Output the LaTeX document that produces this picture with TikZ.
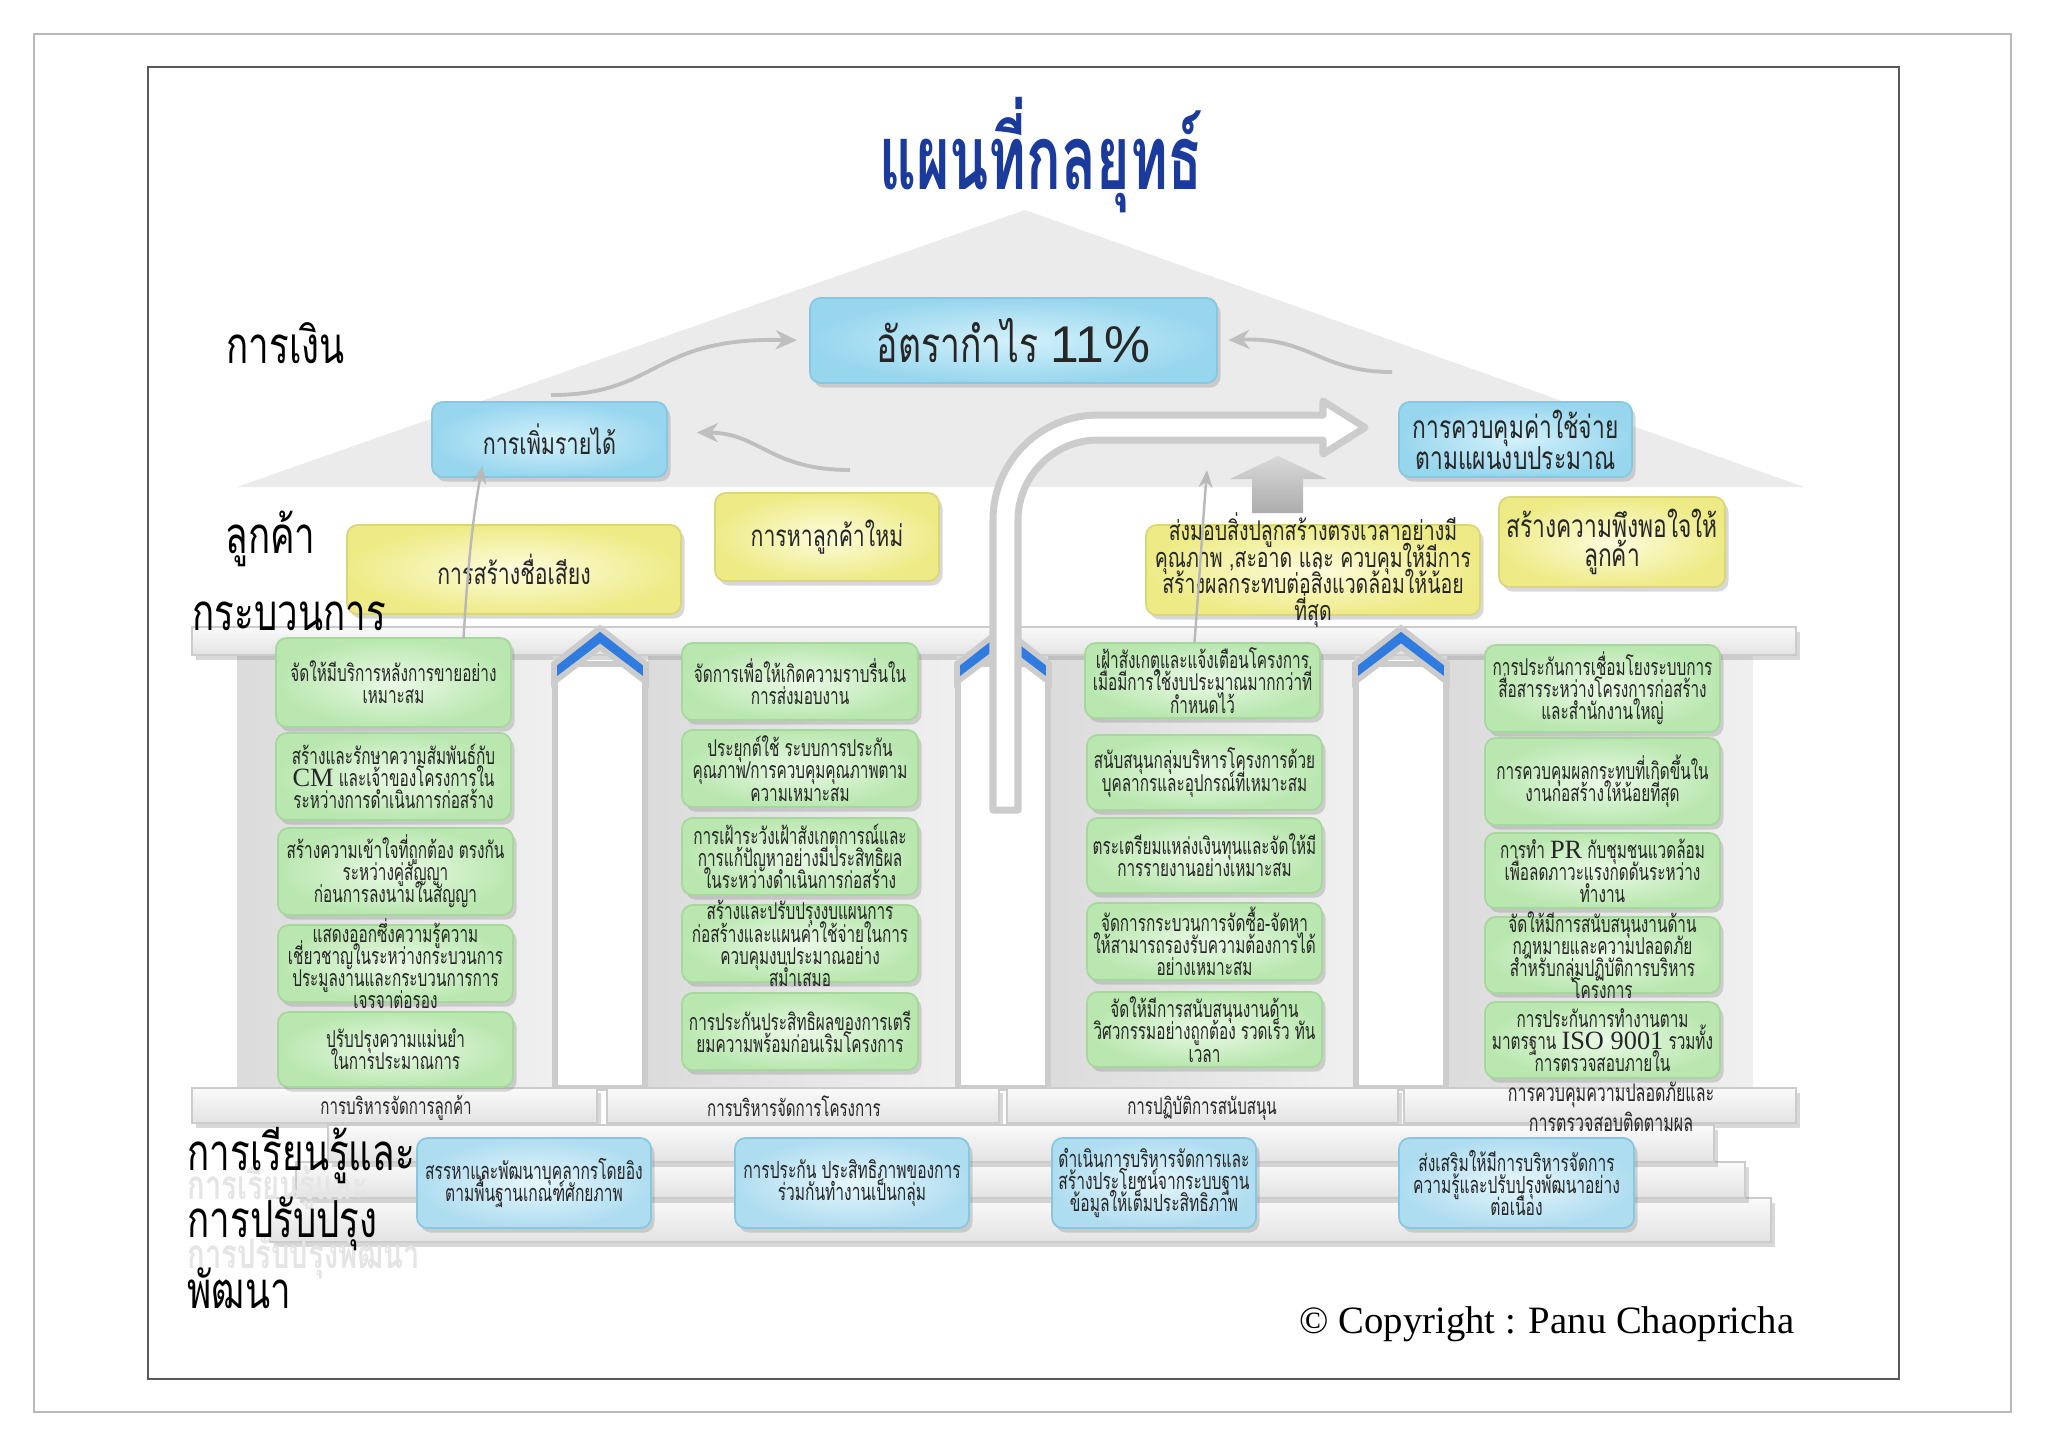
\documentclass[tikz,border=0pt]{standalone}
\usepackage{fontspec}
\usetikzlibrary{shadows,calc,arrows.meta}
\newfontfamily\thai[Script=Thai,FakeStretch=0.72]{Loma}
\newfontfamily\thaiN[Script=Thai,FakeStretch=0.66]{Loma}
\newfontfamily\thaiT[Script=Thai,FakeStretch=0.64]{Loma}
\newfontfamily\tms{Liberation Serif}
\newfontfamily\arl{Liberation Sans}
\definecolor{gIn}{HTML}{EAF9E6}
\definecolor{gOut}{HTML}{B9E7AF}
\definecolor{gEdge}{HTML}{A6D89D}
\definecolor{bIn}{HTML}{D3F1FB}
\definecolor{bOut}{HTML}{98D6EE}
\definecolor{bEdge}{HTML}{86C8E2}
\definecolor{lIn}{HTML}{E6F6FC}
\definecolor{lOut}{HTML}{AFDDF0}
\definecolor{yIn}{HTML}{FDFCDC}
\definecolor{yOut}{HTML}{EEEB87}
\definecolor{yEdge}{HTML}{DAD77A}
\definecolor{roof}{HTML}{EBEBEB}
\definecolor{chev}{HTML}{2F7BE0}
\definecolor{ttl}{HTML}{1B3B9C}
\newcommand\bx[8]{%
  \node[#1, minimum width={(#5-#3)*0.01cm}, minimum height={(#6-#4)*0.01cm}, inner sep=0pt] (#2) at ({(#3+#5)/2},{(#4+#6)/2}) {};
  \node[#7] (#2t) at (#2.center) {#8};}
\newcommand\chev[2]{\filldraw[fill=chev, draw=gray!40, line width=1.6pt, line join=miter] (#1-46,664) -- (#1,628) -- (#1+46,664) -- (#1+46,682) -- (#1,647) -- (#1-46,682) -- cycle;}
\tikzset{
  shd/.style={drop shadow={shadow xshift=1pt, shadow yshift=-1.3pt, opacity=0.3}},
  gbox/.style={rounded corners=3pt, draw=gEdge, line width=0.5pt, inner color=gIn, outer color=gOut, shd},
  bbox/.style={rounded corners=3pt, draw=bEdge, line width=0.5pt, inner color=bIn, outer color=bOut, shd},
  lbox/.style={rounded corners=3pt, draw=bEdge, line width=0.5pt, inner color=lIn, outer color=lOut, shd},
  ybox/.style={rounded corners=3pt, draw=yEdge, line width=0.5pt, inner color=yIn, outer color=yOut, shd},
  txt/.style={align=center, inner sep=0pt, text=black!85},
  gtxt/.style={txt, font=\thaiN\fontsize{6.6}{6.3}\selectfont},
  ltxt/.style={txt, font=\thaiN\fontsize{6.7}{6.3}\selectfont},
  ptxt/.style={txt, font=\thaiN\fontsize{6.5}{8.5}\selectfont},
  lbl/.style={anchor=base west, inner sep=0pt, font=\thai\fontsize{14.5}{15}\selectfont},
  ghost/.style={anchor=base west, inner sep=0pt, text=gray!20, font=\thai\bfseries\fontsize{11.5}{12}\selectfont},
  slab/.style={top color=gray!4, bottom color=gray!22, draw=gray!40, line width=0.6pt, shd},
  garrow/.style={draw=gray!50, line width=1.1pt, -{Stealth[length=6pt,width=5.5pt]}},
  tarrow/.style={draw=gray!55, line width=0.7pt, -{Stealth[length=5pt,width=4pt]}},
}
\begin{document}
\lineskiplimit=-100pt
\lineskip=0pt
\begin{tikzpicture}[x=0.01cm,y=-0.01cm]
\useasboundingbox (0,0) rectangle (2048,1447);
\fill[white] (0,0) rectangle (2048,1447);
\draw[gray!55, line width=0.6pt] (34,34) rectangle (2011,1412);
\draw[black!65, line width=0.6pt] (148,67) rectangle (1899,1379);
% roof
\fill[roof] (1025,210) -- (1804,487) -- (237,487) -- cycle;
% column backgrounds
\foreach \a/\b in {237/553, 648/957, 1048/1355, 1447/1753}
  \shade[left color=gray!28, right color=gray!12] (\a,653) rectangle (\b,1088);
% pillars
\foreach \c in {600,1003,1401}
  \filldraw[fill=white, draw=gray!40, line width=1.6pt] (\c-45,664) rectangle (\c+45,1088);
% lintel
\shade[slab] (192,627) rectangle (1796,655);
% plinths
\foreach \a/\b in {192/597, 607/999, 1007/1398, 1404/1796}
  \shade[slab] (\a,1088) rectangle (\b,1123);
% steps
\shade[slab] (270,1198) rectangle (1771,1242);
\shade[slab] (296,1162) rectangle (1745,1198);
\shade[slab] (328,1125) rectangle (1714,1162);
% chevrons
\chev{600}{}
\chev{1003}{}
\chev{1401}{}
% big white arrow
\filldraw[fill=white, draw=gray!40, line width=2pt, line join=round] (993,810) -- (993,520) .. controls (993,462) and (1040,415) .. (1098,415) -- (1323,415) -- (1323,401) -- (1365,427.5) -- (1323,454) -- (1323,440) -- (1098,440) .. controls (1054,440) and (1018,476) .. (1018,520) -- (1018,810) -- cycle;
% gray up arrow
\shade[top color=gray!30, bottom color=gray!65] (1252,513) -- (1252,479) -- (1230,479) -- (1278,456) -- (1327,479) -- (1303,479) -- (1303,513) -- cycle;
% title
\node[anchor=base, inner sep=0pt, text=ttl, font=\thaiT\bfseries\fontsize{25.5}{25.5}\selectfont] (title) at (1041,189) {แผนที่กลยุทธ์};
% finance
\bx{bbox}{tb}{810}{298}{1217}{383}{txt, font=\thai\fontsize{14}{14}\selectfont}{อัตรากำไร {\arl\fontsize{14.7}{14.7}\selectfont 11\%}}
\bx{bbox}{rev}{432}{402}{667}{477}{txt, font=\thai\fontsize{8.5}{8.8}\selectfont}{การเพิ่มรายได้}
\bx{bbox}{cost}{1399}{402}{1632}{477}{txt, font=\thai\fontsize{9}{8.8}\selectfont}{การควบคุมค่าใช้จ่าย\\ตามแผนงบประมาณ}
% customer
\bx{ybox}{y1}{347}{525}{681}{614}{txt, font=\thai\fontsize{8.4}{8.4}\selectfont}{การสร้างชื่อเสียง}
\bx{ybox}{y2}{715}{493}{939}{581}{txt, font=\thai\fontsize{8.4}{8.4}\selectfont}{การหาลูกค้าใหม่}
\bx{ybox}{y3}{1146}{525}{1480}{615}{txt, font=\thai\fontsize{7.7}{7.6}\selectfont}{ส่งมอบสิ่งปลูกสร้างตรงเวลาอย่างมี\\คุณภาพ ,สะอาด และ ควบคุมให้มีการ\\สร้างผลกระทบต่อสิ่งแวดล้อมให้น้อย\\ที่สุด}
\bx{ybox}{y4}{1499}{497}{1725}{587}{txt, font=\thai\fontsize{9}{8.2}\selectfont}{สร้างความพึงพอใจให้\\ลูกค้า}
% column 1
\bx{gbox}{g1a}{276}{638}{511}{727}{gtxt}{จัดให้มีบริการหลังการขายอย่าง\\เหมาะสม}
\bx{gbox}{g1b}{276}{733}{511}{820}{gtxt}{สร้างและรักษาความสัมพันธ์กับ\\{\tms\fontsize{7.5}{6.3}\selectfont CM} และเจ้าของโครงการใน\\ระหว่างการดำเนินการก่อสร้าง}
\bx{gbox}{g1c}{278}{828}{513}{915}{gtxt}{สร้างความเข้าใจที่ถูกต้อง ตรงกัน\\ระหว่างคู่สัญญา\\ก่อนการลงนามในสัญญา}
\bx{gbox}{g1d}{278}{925}{513}{1002}{gtxt}{แสดงออกซึ่งความรู้ความ\\เชี่ยวชาญในระหว่างกระบวนการ\\ประมูลงานและกระบวนการการ\\เจรจาต่อรอง}
\bx{gbox}{g1e}{278}{1012}{513}{1087}{gtxt}{ปรับปรุงความแม่นยำ\\ในการประมาณการ}
% column 2
\bx{gbox}{g2a}{682}{643}{918}{720}{gtxt}{จัดการเพื่อให้เกิดความราบรื่นใน\\การส่งมอบงาน}
\bx{gbox}{g2b}{682}{730}{918}{807}{gtxt}{ประยุกต์ใช้ ระบบการประกัน\\คุณภาพ/การควบคุมคุณภาพตาม\\ความเหมาะสม}
\bx{gbox}{g2c}{682}{818}{918}{895}{gtxt}{การเฝ้าระวังเฝ้าสังเกตุการณ์และ\\การแก้ปัญหาอย่างมีประสิทธิผล\\ในระหว่างดำเนินการก่อสร้าง}
\bx{gbox}{g2d}{682}{905}{918}{982}{gtxt}{สร้างและปรับปรุงงบแผนการ\\ก่อสร้างและแผนค่าใช้จ่ายในการ\\ควบคุมงบประมาณอย่าง\\สม่ำเสมอ}
\bx{gbox}{g2e}{682}{993}{918}{1070}{gtxt}{การประกันประสิทธิผลของการเตรี\\ยมความพร้อมก่อนเริมโครงการ}
% column 3
\bx{gbox}{g3a}{1085}{643}{1320}{718}{gtxt}{เฝ้าสังเกตุและแจ้งเตือนโครงการ\\เมื่อมีการใช้งบประมาณมากกว่าที่\\กำหนดไว้}
\bx{gbox}{g3b}{1087}{735}{1322}{810}{gtxt}{สนับสนุนกลุ่มบริหารโครงการด้วย\\บุคลากรและอุปกรณ์ที่เหมาะสม}
\bx{gbox}{g3c}{1087}{818}{1322}{893}{gtxt}{ตระเตรียมแหล่งเงินทุนและจัดให้มี\\การรายงานอย่างเหมาะสม}
\bx{gbox}{g3d}{1087}{903}{1322}{980}{gtxt}{จัดการกระบวนการจัดซื้อ-จัดหา\\ให้สามารถรองรับความต้องการได้\\อย่างเหมาะสม}
\bx{gbox}{g3e}{1087}{992}{1322}{1067}{gtxt}{จัดให้มีการสนับสนุนงานด้าน\\วิศวกรรมอย่างถูกต้อง รวดเร็ว ทัน\\เวลา}
% column 4
\bx{gbox}{g4a}{1485}{645}{1720}{732}{gtxt}{การประกันการเชื่อมโยงระบบการ\\สื่อสารระหว่างโครงการก่อสร้าง\\และสำนักงานใหญ่}
\bx{gbox}{g4b}{1485}{738}{1720}{825}{gtxt}{การควบคุมผลกระทบที่เกิดขึ้นใน\\งานก่อสร้างให้น้อยที่สุด}
\bx{gbox}{g4c}{1485}{833}{1720}{908}{gtxt}{การทำ {\tms\fontsize{7.5}{6.3}\selectfont PR} กับชุมชนแวดล้อม\\เพื่อลดภาวะแรงกดดันระหว่าง\\ทำงาน}
\bx{gbox}{g4d}{1485}{917}{1720}{993}{gtxt}{จัดให้มีการสนับสนุนงานด้าน\\กฎหมายและความปลอดภัย\\สำหรับกลุ่มปฏิบัติการบริหาร\\โครงการ}
\bx{gbox}{g4e}{1485}{1002}{1720}{1078}{gtxt}{การประกันการทำงานตาม\\มาตรฐาน {\tms\fontsize{7.5}{6.3}\selectfont ISO 9001} รวมทั้ง\\การตรวจสอบภายใน}
% plinth labels
\node[ptxt] (p1) at (396,1108) {การบริหารจัดการลูกค้า};
\node[ptxt] (p2) at (794,1106) {การบริหารจัดการโครงการ};
\node[ptxt] (p3) at (1202,1108) {การปฏิบัติการสนับสนุน};
\node[ptxt, font=\thaiN\fontsize{6.9}{8.4}\selectfont] (p4) at (1611,1107) {การควบคุมความปลอดภัยและ\\การตรวจสอบติดตามผล};
% learning
\bx{lbox}{l1}{417}{1138}{651}{1228}{ltxt}{สรรหาและพัฒนาบุคลากรโดยอิง\\ตามพื้นฐานเกณฑ์ศักยภาพ}
\bx{lbox}{l2}{735}{1138}{969}{1228}{ltxt}{การประกัน ประสิทธิภาพของการ\\ร่วมกันทำงานเป็นกลุ่ม}
\bx{lbox}{l3}{1052}{1138}{1256}{1228}{ltxt}{ดำเนินการบริหารจัดการและ\\สร้างประโยชน์จากระบบฐาน\\ข้อมูลให้เต็มประสิทธิภาพ}
\bx{lbox}{l4}{1399}{1138}{1634}{1228}{ltxt}{ส่งเสริมให้มีการบริหารจัดการ\\ความรู้และปรับปรุงพัฒนาอย่าง\\ต่อเนื่อง}
% arrows
\coordinate (a1s) at (551,395);
\coordinate (a2s) at (1392,372);
\coordinate (a3s) at (850,470);
\coordinate (a5e) at (1207,470);
\draw[garrow, shorten >=3.5pt] (a1s) .. controls (660,395) and (650,337) .. (tb.west);
\draw[garrow, shorten >=3pt] (a2s) .. controls (1320,372) and (1310,337) .. (tb.east);
\draw[garrow] (a3s) .. controls (770,470) and (760,433) .. ($(rev.east)+(29,-7)$);
\draw[tarrow] ($(g1a.north)+(70,2)$) .. controls (468,560) and (474,510) .. ($(rev.south)+(-67,-12)$);
\draw[tarrow] ($(g3a.north)+(-8,0)$) .. controls (1200,570) and (1203,520) .. (a5e);
% row labels
\node[ghost] (gh1) at (187,1199) {การเรียนรู้และ};
\node[ghost] (gh2) at (187,1268) {การปรับปรุงพัฒนา};
\node[lbl] (lf) at (226,363) {การเงิน};
\node[lbl] (lc) at (225,553) {ลูกค้า};
\node[lbl] (lp) at (192,630) {กระบวนการ};
\node[lbl] (ll1) at (187,1170) {การเรียนรู้และ};
\node[lbl] (ll2) at (187,1237) {การปรับปรุง};
\node[lbl] (ll3) at (187,1308) {พัฒนา};
% copyright
\node[anchor=base west, inner sep=0pt, font=\tms\fontsize{11}{11}\selectfont] (cp) at (1299,1333) {© Copyright : Panu Chaopricha};
\end{tikzpicture}
\end{document}
